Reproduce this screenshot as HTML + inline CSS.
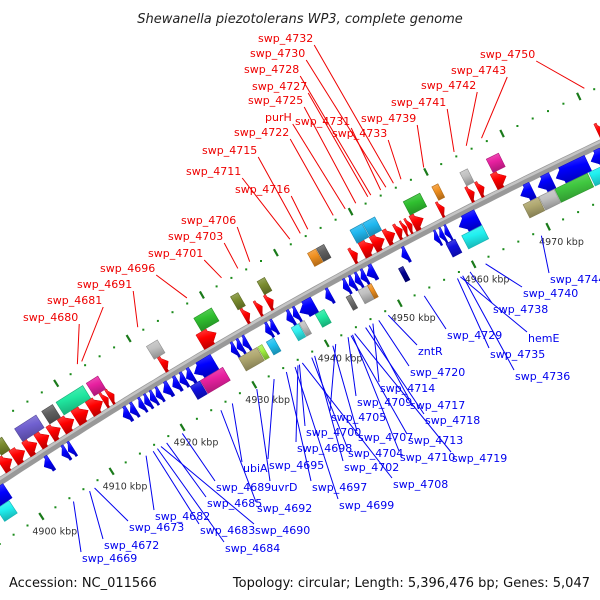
<!DOCTYPE html>
<html><head><meta charset="utf-8"><style>
html,body{margin:0;padding:0;background:#fff;}
svg{display:block;font-family:"DejaVu Sans","Liberation Sans",sans-serif;}
</style></head><body>
<svg id="chart" width="600" height="600" viewBox="0 0 600 600">
<defs></defs>
<text x="300" y="23" text-anchor="middle" font-style="italic" font-size="13" fill="#222">Shewanella piezotolerans WP3, complete genome</text>
<g id="layer"></g>
<text x="9" y="587" font-size="13" fill="#111">Accession: NC_011566</text>
<text x="590" y="587" text-anchor="end" font-size="13" fill="#111">Topology: circular; Length: 5,396,476 bp; Genes: 5,047</text>
</svg>
<script>
// ---- data (kbp) ----
const plusStarts = [4899.3,4901.0,4902.8,4904.5,4906.2,4907.8,4909.7,4911.7,4913.6,4914.4,4921.7,4927.0,4933.0,4934.8,4936.2,4947.6,4949.0,4950.5,4952.2,4953.6,4954.5,4955.1,4955.8,4959.3,4963.2,4964.5,4966.6,4980.2];
const plusEnds   = [4900.8,4902.6,4904.3,4906.0,4907.6,4909.5,4911.5,4913.5,4914.3,4915.1,4922.6,4929.2,4933.8,4935.5,4937.0,4948.4,4950.6,4952.0,4953.4,4954.4,4955.0,4955.7,4957.2,4960.0,4964.0,4965.3,4968.2,4981.0];
const minusStarts = [4895.5,4903.5,4906.0,4906.9,4914.6,4915.6,4916.8,4917.6,4918.4,4919.2,4920.2,4921.5,4922.5,4923.4,4924.5,4929.6,4930.4,4931.2,4934.3,4935.0,4937.2,4938.1,4939.0,4942.5,4944.9,4945.7,4946.5,4947.3,4948.1,4952.8,4957.2,4957.9,4958.6,4960.5,4968.7,4971.0,4973.4,4978.0,4979.8];
const minusEnds   = [4898.3,4904.5,4906.8,4907.6,4915.5,4916.4,4917.5,4918.3,4919.1,4919.9,4921.2,4922.4,4923.3,4924.3,4927.3,4930.3,4931.1,4931.9,4935.0,4935.7,4938.0,4938.8,4941.0,4943.3,4945.6,4946.4,4947.2,4948.0,4949.2,4953.6,4957.8,4958.5,4959.2,4963.0,4970.3,4972.9,4977.6,4979.6,4981.6];
const upBoxStarts = [4900.0,4903.0,4906.8,4908.8,4913.0,4921.3,4927.8,4932.8,4936.4,4943.2,4944.4,4948.9,4950.6,4956.0,4959.8,4963.5,4967.0];
const upBoxEnds   = [4901.2,4906.0,4908.3,4912.5,4914.6,4922.8,4930.2,4933.8,4937.4,4944.3,4945.4,4950.5,4952.2,4958.2,4960.6,4964.5,4968.6];
const upBoxColors = ["#7a8c2e","#7060d0","#606060","#20e8a0","#e820a0","#c0c0c0","#30c030","#7a8c2e","#7a8c2e","#f09020","#606060","#20b8f0","#20b8f0","#30c030","#f09020","#c0c0c0","#e820a0"];
const dnBoxStarts = [4896.0,4923.3,4924.7,4930.0,4932.6,4933.8,4937.2,4938.3,4940.5,4944.7,4946.3,4947.6,4951.8,4958.2,4960.3,4968.5,4970.6,4972.7,4977.2];
const dnBoxEnds   = [4897.8,4924.6,4927.8,4932.5,4933.2,4934.8,4938.2,4939.0,4941.7,4945.3,4947.6,4948.1,4952.4,4959.4,4963.0,4970.5,4972.6,4977.0,4980.0];
const dnBoxColors = ["#20f0f0","#1010e0","#e820a0","#b0a870","#a0f040","#20c0f0","#30f0f0","#c0c0c0","#20e8a0","#707070","#c0c0c0","#f09020","#000090","#1010e0","#20f0f0","#b0a870","#c0c0c0","#40c840","#20f0f0"];
const tickKbp = [4890,4900,4910,4920,4930,4940,4950,4960,4970,4980];
const tickLabels = ["","4900 kbp","4910 kbp","4920 kbp","4930 kbp","4940 kbp","4950 kbp","4960 kbp","4970 kbp","4980 kbp"];
const redNames = ["swp_4732","swp_4730","swp_4728","swp_4727","swp_4725","purH","swp_4731","swp_4722","swp_4733","swp_4739","swp_4741","swp_4742","swp_4743","swp_4750","swp_4715","swp_4711","swp_4716","swp_4706","swp_4703","swp_4701","swp_4696","swp_4691","swp_4681","swp_4680"];
const redKbp = [4956,4955,4953,4952.6,4951,4949.6,4954.3,4948,4957,4960,4964,4965.6,4967.6,4981,4943.6,4942.2,4944.6,4936.8,4935.2,4933,4928.3,4921.6,4913.9,4913.3];
const redX = [258,250,244,252,248,265,295,234,332,361,391,421,451,480,202,186,235,181,168,148,100,77,47,23];
const redY = [42,57,73,90,104,121,125,136,137,122,106,89,74,58,154,175,193,224,240,257,272,288,304,321];
const blueNames = ["zntR","swp_4720","swp_4714","swp_4717","swp_4709","swp_4718","swp_4705","swp_4713","swp_4700","swp_4707","swp_4710","swp_4698","swp_4704","swp_4719","swp_4702","swp_4695","ubiA","swp_4708","swp_4697","uvrD","swp_4689","swp_4699","swp_4692","swp_4685","swp_4690","swp_4682","swp_4683","swp_4673","swp_4684","swp_4672","swp_4669","swp_4729","swp_4738","swp_4740","swp_4744","hemE","swp_4735","swp_4736"];
const blueKbp = [4948.1,4946.8,4946,4945.5,4942.6,4945,4940.9,4943,4935.9,4940.5,4943.2,4935.7,4937.6,4943.5,4938,4932.4,4926.6,4936.3,4934.1,4930,4919.6,4935.3,4925,4917.4,4916.6,4914.5,4915.5,4907.2,4916.1,4906.5,4904.2,4953,4959.2,4961.3,4968.8,4957.9,4957.5,4958.2];
const blueX = [418,410,380,410,357,425,331,408,306,358,400,297,348,452,344,269,243,393,312,271,216,339,257,207,255,155,200,129,225,104,82,447,493,523,550,528,490,515];
const blueY = [351,372,388,405,402,420,417,440,432,437,457,448,453,458,467,465,468,484,487,487,487,505,508,503,530,516,530,527,548,545,558,335,309,293,279,338,354,376];

// ---- geometry ----
const R = 4900, CX = 2696, CY = 4573;
function ang(k){ return (-123.2 + (k - 4900) * 0.0986) * Math.PI / 180; }
function P(k, r){ const a = ang(k); return [CX + r * Math.cos(a), CY + r * Math.sin(a)]; }
const NS = "http://www.w3.org/2000/svg";
const layer = document.getElementById("layer");
const defs = document.querySelector("defs");
function mk(tag, attrs){ const e = document.createElementNS(NS, tag); for (const k in attrs) e.setAttribute(k, attrs[k]); return e; }
function pts(a){ return a.map(p => p[0].toFixed(1) + "," + p[1].toFixed(1)).join(" "); }
function shade(hex, f){ const n = parseInt(hex.slice(1), 16); let r = n >> 16, g = (n >> 8) & 255, b = n & 255;
  const c = v => Math.max(0, Math.min(255, Math.round(f > 1 ? v + (255 - v) * (f - 1) : v * f)));
  return "rgb(" + c(r) + "," + c(g) + "," + c(b) + ")"; }
let gid = 0;
function grad(col){ const id = "g" + (gid++);
  const g = mk("linearGradient", {id: id, x1: "0", y1: "0", x2: "0.3", y2: "1"});
  g.appendChild(mk("stop", {offset: "0", "stop-color": shade(col, 1.3)}));
  g.appendChild(mk("stop", {offset: "0.5", "stop-color": col}));
  g.appendChild(mk("stop", {offset: "1", "stop-color": shade(col, 0.75)}));
  defs.appendChild(g); return "url(#" + id + ")"; }

// ---- backbone ----
const bb = [];
for (let k = 4880; k <= 4995; k += 1) bb.push(P(k, R));
const back = mk("polyline", {points: pts(bb), fill: "none", stroke: "#999", "stroke-width": 8});


layer.appendChild(back);
const bb2 = [];
for (let k = 4880; k <= 4995; k += 1) bb2.push(P(k, R + 2));
const hl = mk("polyline", {points: pts(bb2), fill: "none", stroke: "#c4c4c4", "stroke-width": 2.5});


layer.appendChild(hl);

// ---- dotted tracks and ticks ----
[R + 52, R - 52].forEach((rr, ti) => {
  for (let k = 4880; k <= 4992; k += 2) {
    if (k % 10 === 0) continue;
    const p = P(k, rr);
    const d = mk("rect", {x: (p[0] - 1).toFixed(1), y: (p[1] - 1).toFixed(1), width: 2, height: 2, fill: "#1a8a1a"});
    
    
    layer.appendChild(d);
  }
});
tickKbp.forEach((k, i) => {
  [R + 52, R - 52].forEach((rr, ti) => {
    const a = P(k, rr - 4), b = P(k, rr + 4);
    const t = mk("line", {x1: a[0], y1: a[1], x2: b[0], y2: b[1], stroke: "#1a7a1a", "stroke-width": 2.2});
    
    
    layer.appendChild(t);
  });
  if (!tickLabels[i]) return;
  const p = P(k, R - 52);
  const lb = mk("text", {x: (p[0] - 9).toFixed(1), y: (p[1] + 18).toFixed(1), "font-size": 9.5, fill: "#333"});
  lb.textContent = tickLabels[i];
  
  
  layer.appendChild(lb);
});

// ---- shapes ----
function box(s, e, r1, r2, col, name){
  const poly = [P(s, r1), P(e, r1), P(e, r2), P(s, r2)];
  const b = mk("polygon", {points: pts(poly), fill: grad(col), stroke: shade(col, 0.75), "stroke-width": 0.6});
  
  
  layer.appendChild(b);
}
function arrow(s, e, r1, r2, col, plus, name){
  const len = e - s, hk = Math.min(0.8, len * 0.6), mid = (r1 + r2) / 2;
  let poly;
  if (plus) poly = [P(s, r1 + 1.5), P(e - hk, r1 + 1.5), P(e - hk, r1 - 1), P(e, mid), P(e - hk, r2 + 1), P(e - hk, r2 - 1.5), P(s, r2 - 1.5)];
  else poly = [P(e, r1 + 1.5), P(s + hk, r1 + 1.5), P(s + hk, r1 - 1), P(s, mid), P(s + hk, r2 + 1), P(s + hk, r2 - 1.5), P(e, r2 - 1.5)];
  const a = mk("polygon", {points: pts(poly), fill: grad(col), stroke: shade(col, 0.8), "stroke-width": 0.5});
  
  
  layer.appendChild(a);
}
upBoxStarts.forEach((s, i) => box(s, upBoxEnds[i], R + 36, R + 21, upBoxColors[i], 'outer-feature-box'));
dnBoxStarts.forEach((s, i) => box(s, dnBoxEnds[i], R - 21, R - 36, dnBoxColors[i], 'inner-feature-box'));
plusStarts.forEach((s, i) => arrow(s, plusEnds[i], R + 19, R + 5, "#ff0000", true, 'plus-strand-gene'));
minusStarts.forEach((s, i) => arrow(s, minusEnds[i], R - 5, R - 19, "#0000ff", false, 'minus-strand-gene'));

// ---- labels ----
redNames.forEach((n, i) => {
  const t = mk("text", {x: redX[i], y: redY[i], "font-size": 11, fill: "#ee0000"});
  t.textContent = n;
  
  
  layer.appendChild(t);
  const w = t.getComputedTextLength ? t.getComputedTextLength() : n.length * 6.5;
  const p = P(redKbp[i], R + 57);
  const l = mk("line", {x1: redX[i] + w + 1, y1: redY[i] + 3, x2: p[0], y2: p[1], stroke: "#ee0000", "stroke-width": 1});
  
  
  layer.appendChild(l);
});
blueNames.forEach((n, i) => {
  const t = mk("text", {x: blueX[i], y: blueY[i] + 4, "font-size": 11, fill: "#0000ee"});
  t.textContent = n;
  
  
  layer.appendChild(t);
  const p = P(blueKbp[i], R - 57);
  const l = mk("line", {x1: blueX[i] - 1, y1: blueY[i] - 6, x2: p[0], y2: p[1], stroke: "#0000ee", "stroke-width": 1});
  
  
  layer.appendChild(l);
});
</script>
</body></html>
